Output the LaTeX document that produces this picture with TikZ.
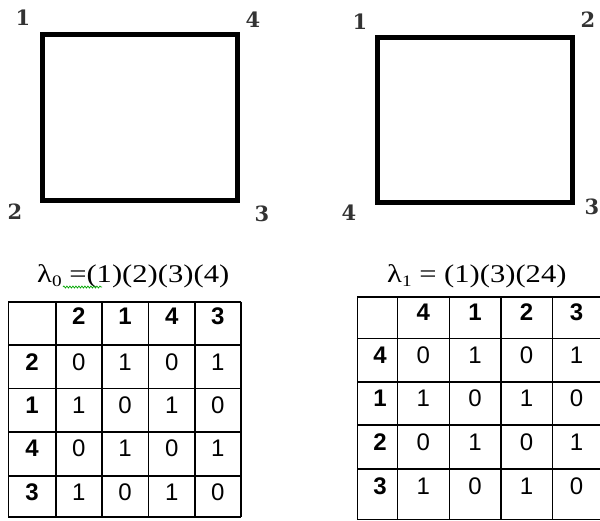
\documentclass[tikz,border=0pt]{standalone}
\usepackage{fontspec}
\setmainfont{Liberation Serif}
\setsansfont{Liberation Sans}
\newfontfamily\cornerfont{DejaVu Serif}
\usetikzlibrary{decorations.pathmorphing}

\begin{document}
\begin{tikzpicture}[x=1pt, y=-1pt,
    sq/.style={line width=5pt, draw=black},
    corner/.style={font=\cornerfont\bfseries\fontsize{21}{21}\selectfont, text=black!80, inner sep=0pt},
    title/.style={font=\fontsize{25.5}{25.5}\selectfont, anchor=base west, inner sep=0pt},
    grid/.style={line width=1.6pt},
    hd/.style={font=\sffamily\bfseries\fontsize{24}{24}\selectfont, anchor=base, inner sep=0pt},
    val/.style={font=\sffamily\fontsize{24}{24}\selectfont, anchor=base, inner sep=0pt},
    squiggle/.style={draw=green!65!black, line width=0.7pt, decorate, decoration={snake, amplitude=1pt, segment length=3pt}}
]
\clip (0,0) rectangle (600,520);

% left square
\coordinate (a1) at (42,34.5);
\coordinate (a4) at (237,34.5);
\coordinate (a3) at (237,200);
\coordinate (a2) at (42,200);
\draw[sq] (a1) -- (a4) -- (a3) -- (a2) -- cycle;
\node[corner] (la1) at (23,18) {1};
\node[corner] (la4) at (253,20) {4};
\node[corner] (la2) at (15,212) {2};
\node[corner] (la3) at (262,214) {3};

% right square
\coordinate (b1) at (377,37);
\coordinate (b2) at (572,37);
\coordinate (b3) at (572,202);
\coordinate (b4) at (377,202);
\draw[sq] (b1) -- (b2) -- (b3) -- (b4) -- cycle;
\node[corner] (lb1) at (360,22) {1};
\node[corner] (lb2) at (588,20) {2};
\node[corner] (lb4) at (349,213) {4};
\node[corner] (lb3) at (592,207) {3};

% titles
\node[title] (t0) at (37,282) {\scalebox{1.2}[1]{λ\raisebox{-4pt}{\fontsize{16}{16}\selectfont 0} =(1)(2)(3)(4)}};
\draw[squiggle] (63,287) -- (102,287);
\node[title] (t1) at (387,282) {\scalebox{1.2}[1]{λ\raisebox{-4pt}{\fontsize{16}{16}\selectfont 1} = (1)(3)(24)}};

% left table
\foreach \x in {8.3, 55.7, 101.7, 148.3, 195, 240.7}
  \draw[grid] (\x,301.7) -- (\x,516.7);
\foreach \y in {301.7, 345, 388.3, 431.7, 475.7, 516.7}
  \draw[grid] (8.3,\y) -- (240.7,\y);
\foreach \lab/\x in {2/78.7, 1/125, 4/171.7, 3/217.9}
  \node[hd] (lh\lab) at (\x,324.5) {\lab};
\foreach \y/\rl/\a/\b/\c/\d in {370/2/0/1/0/1, 413.3/1/1/0/1/0, 456.7/4/0/1/0/1, 500.7/3/1/0/1/0} {
  \node[hd] (lr\rl) at (32,\y) {\rl};
  \node[val] (l\rl-1) at (78.7,\y) {\a};
  \node[val] (l\rl-2) at (125,\y) {\b};
  \node[val] (l\rl-3) at (171.7,\y) {\c};
  \node[val] (l\rl-4) at (217.9,\y) {\d};
}

% right table
\foreach \x in {357.3, 397.3, 449.3, 500.7, 552.3, 602}
  \draw[grid] (\x,296.7) -- (\x,519.3);
\foreach \y in {296.7, 338.3, 381.7, 425, 469, 519.3}
  \draw[grid] (357.3,\y) -- (602,\y);
\foreach \lab/\x in {4/423.3, 1/475, 2/526.5, 3/576.5}
  \node[hd] (rh\lab) at (\x,320) {\lab};
\foreach \y/\rl/\a/\b/\c/\d in {363.3/4/0/1/0/1, 406.7/1/1/0/1/0, 450/2/0/1/0/1, 494/3/1/0/1/0} {
  \node[hd] (rr\rl) at (380,\y) {\rl};
  \node[val] (r\rl-1) at (423.3,\y) {\a};
  \node[val] (r\rl-2) at (475,\y) {\b};
  \node[val] (r\rl-3) at (526.5,\y) {\c};
  \node[val] (r\rl-4) at (576.5,\y) {\d};
}
\end{tikzpicture}
\end{document}
